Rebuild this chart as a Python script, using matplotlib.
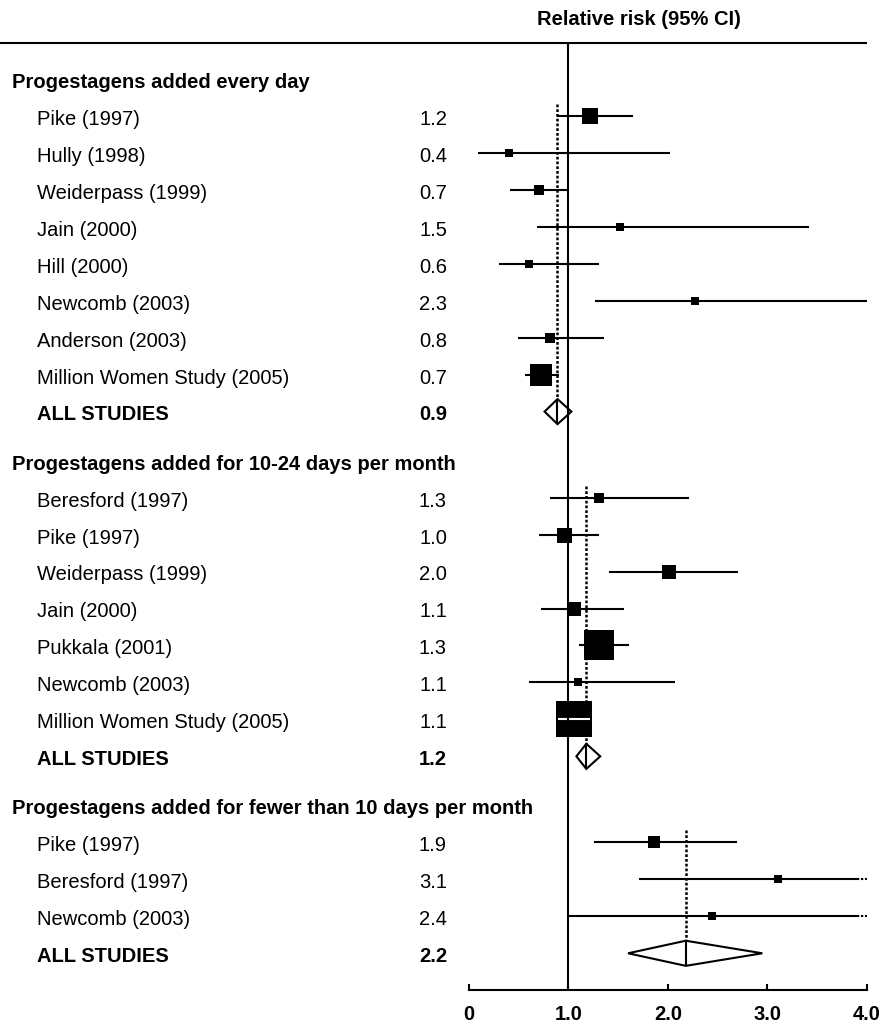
import numpy as np
import matplotlib
matplotlib.use('Agg')
import matplotlib.pyplot as plt
from matplotlib.patches import Polygon
from matplotlib.transforms import blended_transform_factory

plt.rcParams['font.family'] = ['Liberation Sans', 'DejaVu Sans']

# ---- study data ------------------------------------------------------------
section_titles = [
    'Progestagens added every day',
    'Progestagens added for 10-24 days per month',
    'Progestagens added for fewer than 10 days per month',
]

names_daily = ['Pike (1997)', 'Hully (1998)', 'Weiderpass (1999)', 'Jain (2000)',
               'Hill (2000)', 'Newcomb (2003)', 'Anderson (2003)',
               'Million Women Study (2005)']
rr_daily = [1.22, 0.40, 0.70, 1.52, 0.60, 2.27, 0.81, 0.72]
lo_daily = [0.89, 0.09, 0.41, 0.68, 0.30, 1.27, 0.49, 0.56]
hi_daily = [1.65, 2.02, 1.01, 3.42, 1.31, 4.00, 1.36, 0.91]
box_daily = [16, 8, 10, 8, 8, 8.7, 9.5, 21.5]   # box width ~ study weight

names_cyclic = ['Beresford (1997)', 'Pike (1997)', 'Weiderpass (1999)', 'Jain (2000)',
                'Pukkala (2001)', 'Newcomb (2003)', 'Million Women Study (2005)']
rr_cyclic = [1.31, 0.96, 2.01, 1.06, 1.31, 1.10, 1.06]
lo_cyclic = [0.81, 0.70, 1.41, 0.72, 1.11, 0.60, 0.90]
hi_cyclic = [2.21, 1.31, 2.71, 1.56, 1.61, 2.07, 1.22]
box_cyclic = [10.7, 15, 14.7, 13.3, 30, 8.7, 35.5]

names_short = ['Pike (1997)', 'Beresford (1997)', 'Newcomb (2003)']
rr_short = [1.86, 3.11, 2.44]
lo_short = [1.26, 1.71, 1.01]
hi_short = [2.70, np.inf, np.inf]   # upper limits run off the scale
box_short = [12.7, 8.7, 7.3]

pooled_rr = [0.89, 1.18, 2.18]
pooled_lo = [0.76, 1.08, 1.60]
pooled_hi = [1.03, 1.32, 2.95]

xticks = [0, 1, 2, 3, 4]
xticklabels = ['0', '1.0', '2.0', '3.0', '4.0']

sections = [
    (names_daily, rr_daily, lo_daily, hi_daily, box_daily),
    (names_cyclic, rr_cyclic, lo_cyclic, hi_cyclic, box_cyclic),
    (names_short, rr_short, lo_short, hi_short, box_short),
]

# ---- figure ----------------------------------------------------------------
W, H = 883, 1029
fig = plt.figure(figsize=(W / 100, H / 100), dpi=100)
ax = fig.add_axes([0, 0, 1, 1])

px_per_x = 99.43          # pixels per RR unit
x0_px = 469               # pixel position of RR = 0
row_px = 36.95            # pixels per row
ax.set_xlim(-x0_px / px_per_x, (W - x0_px) / px_per_x)
ax.set_ylim(1 + (H - 116) / row_px, 1 - 116 / row_px)

fs = 14.5
lw = 1.5
xmax = 4.0
tr = blended_transform_factory(ax.transAxes, ax.transData)
x_head, x_name, x_val = 11.7 / W, 36.7 / W, 447 / W
base = 0.24               # baseline offset of labels below row centre
dotted = (0, (1.1, 0.8))

gap = 0.33
diamond_h = 0.34
y = 0.0
for title, (names, rr, lo, hi, box), prr, plo, phi in zip(
        section_titles, sections, pooled_rr, pooled_lo, pooled_hi):
    ax.text(x_head, y + base, title, transform=tr, fontsize=fs, fontweight='bold',
            ha='left', va='baseline')
    rows = y + 1 + np.arange(len(names))
    for yy, name, r, l, h, b in zip(rows, names, rr, lo, hi, box):
        ax.text(x_name, yy + base, name, transform=tr, fontsize=fs,
                ha='left', va='baseline')
        ax.text(x_val, yy + base, f'{r:.1f}', transform=tr, fontsize=fs,
                ha='right', va='baseline')
        half = b / 2 / px_per_x
        inside = l >= r - half and h <= r + half
        if np.isinf(h):
            ax.hlines(yy, l, 3.9, color='black', lw=lw, zorder=3)
            ax.hlines(yy, 3.9, xmax, color='black', lw=lw, linestyles=dotted, zorder=3)
        elif not inside:
            ax.hlines(yy, l, h, color='black', lw=lw, zorder=3)
        ax.scatter([r], [yy], marker='s', s=(b * 0.72) ** 2, color='black',
                   linewidths=0, zorder=4)
        if inside:
            # interval fits within the box: show it in white
            ax.hlines(yy, l, h, color='white', lw=lw, zorder=5)

    y_all = rows[-1] + 1
    ax.text(x_name, y_all + base, 'ALL STUDIES', transform=tr, fontsize=fs,
            fontweight='bold', ha='left', va='baseline')
    ax.text(x_val, y_all + base, f'{prr:.1f}', transform=tr, fontsize=fs,
            fontweight='bold', ha='right', va='baseline')

    # pooled estimate: dotted reference line and diamond
    ax.vlines(prr, rows[0] - 0.33, y_all - diamond_h, color='black', lw=1.8,
              linestyles=dotted, zorder=2)
    diamond = Polygon([(plo, y_all), (prr, y_all - diamond_h), (phi, y_all),
                       (prr, y_all + diamond_h)], closed=True, facecolor='white',
                      edgecolor='black', lw=lw, zorder=4)
    ax.add_patch(diamond)
    ax.vlines(prr, y_all - diamond_h, y_all + diamond_h, color='black', lw=lw, zorder=5)

    y = y_all + 1 + gap

axis_y = y_all + 0.99
top_y = -0.98

# line of no effect and header rule
ax.vlines(1.0, top_y, axis_y, color='black', lw=lw, zorder=6)
ax.hlines(top_y, -x0_px / px_per_x, xmax, color='black', lw=lw)
ax.text(1.71, -1.6, 'Relative risk (95% CI)', fontsize=fs, fontweight='bold',
        ha='center', va='center')

# x axis drawn on the bottom spine
for side in ['top', 'left', 'right']:
    ax.spines[side].set_visible(False)
ax.spines['bottom'].set_position(('data', axis_y))
ax.spines['bottom'].set_bounds(0, xmax)
ax.spines['bottom'].set_linewidth(lw)
ax.set_xticks(xticks)
ax.set_xticklabels(xticklabels, fontsize=fs, fontweight='bold')
ax.tick_params(axis='x', direction='in', length=4, width=lw, pad=11)
ax.set_yticks([])
ax.patch.set_visible(False)

fig.savefig('out.png', dpi=100, facecolor='white')
